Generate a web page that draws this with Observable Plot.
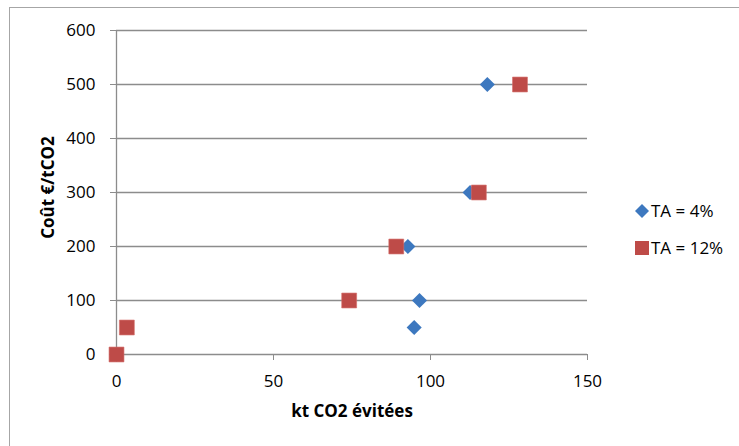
<!DOCTYPE html>
<html>
<head>
<meta charset="utf-8">
<script src="https://cdn.jsdelivr.net/npm/d3@7"></script>
<script src="https://cdn.jsdelivr.net/npm/@observablehq/plot@0.6"></script>
<style>
  html, body { margin: 0; padding: 0; background: #fff; }
  #wrap { position: relative; width: 739px; height: 446px; overflow: hidden; font-family: "Open Sans", "Liberation Sans", sans-serif; }
  #border { position: absolute; left: 9px; top: 7px; width: 760px; height: 460px; border: 1.5px solid #a6a6a6; box-sizing: border-box; }
  #legend { position: absolute; left: 634px; top: 199px; font-size: 17px; color: #000; }
  .item { position: absolute; white-space: nowrap; display: flex; align-items: center; }
  .item svg { margin-right: 1px; }
</style>
</head>
<body>
<div id="wrap">
  <div id="border"></div>
  <div id="chart"></div>
  <div id="legend"></div>
</div>
<script>
// Series names
const seriesNames = ["TA = 4%", "TA = 12%"];
const seriesColors = ["#3d78bf", "#be4b48"];
const seriesSymbols = ["diamond2", "square"];

// Y values (Coût €/tCO2) shared by both series
const costs = [500, 300, 200, 100, 50, 0];
// X values (kt CO2 évitées)
const ta4 = [118.1, 112.6, 92.8, 96.5, 94.8, 0];
const ta12 = [128.5, 115.4, 89.1, 74.1, 3.3, 0];

const xTicks = [0, 50, 100, 150];
const yTicks = [0, 100, 200, 300, 400, 500, 600];

const data = [
  ...costs.map((c, i) => ({series: seriesNames[0], x: ta4[i], y: c})),
  ...costs.map((c, i) => ({series: seriesNames[1], x: ta12[i], y: c}))
];

const gridColor = "#8c8c8c";
const fs = 17;

const chart = Plot.plot({
  width: 739,
  height: 446,
  marginLeft: 116,
  marginRight: 152,
  marginTop: 30,
  marginBottom: 92,
  style: {fontFamily: "'Open Sans', 'Liberation Sans', sans-serif", fontSize: fs + "px", color: "#000", background: "transparent", overflow: "visible"},
  x: {domain: [0, 150], ticks: xTicks},
  y: {domain: [0, 600], ticks: yTicks},
  symbol: {domain: seriesNames, range: seriesSymbols},
  color: {domain: seriesNames, range: seriesColors},
  marks: [
    Plot.gridY(yTicks, {stroke: gridColor, strokeOpacity: 1, strokeWidth: 1.3}),
    Plot.ruleX([0], {stroke: gridColor, strokeWidth: 1.3}),
    Plot.axisY({ticks: yTicks, tickSize: 6, tickPadding: 15, stroke: gridColor, label: null, fontSize: fs}),
    Plot.axisX({ticks: xTicks, tickSize: 6, tickPadding: 14, stroke: gridColor, label: null, fontSize: fs}),
    Plot.dot(data.filter(d => d.series === seriesNames[0]), {x: "x", y: "y", symbol: "series", fill: "series", r: 6.8, stroke: "none"}),
    Plot.dot(data.filter(d => d.series === seriesNames[1]), {x: "x", y: "y", symbol: "series", fill: "series", r: 8.4, stroke: "#d46a67", strokeWidth: 0.6}),
    Plot.text(["kt CO2 évitées"], {frameAnchor: "bottom", dy: 62, fontWeight: "bold", fontSize: fs}),
    Plot.text(["Coût €/tCO2"], {frameAnchor: "left", textAnchor: "middle", dx: -68, dy: -5, rotate: -90, fontWeight: "bold", fontSize: fs})
  ]
});
document.getElementById("chart").appendChild(chart);

// Legend
const legend = document.getElementById("legend");
seriesNames.forEach((name, i) => {
  const item = document.createElement("div");
  item.className = "item";
  item.style.top = (i * 37) + "px";
  const s = d3.create("svg").attr("width", 16).attr("height", 16);
  const sym = i === 0 ? d3.symbolDiamond2 : d3.symbolSquare;
  const size = i === 0 ? 125 : 196;
  s.append("path").attr("transform", "translate(8,8)").attr("d", d3.symbol(sym, size)()).attr("fill", seriesColors[i]);
  item.appendChild(s.node());
  const t = document.createElement("span");
  t.textContent = name;
  item.appendChild(t);
  legend.appendChild(item);
});
</script>
</body>
</html>
